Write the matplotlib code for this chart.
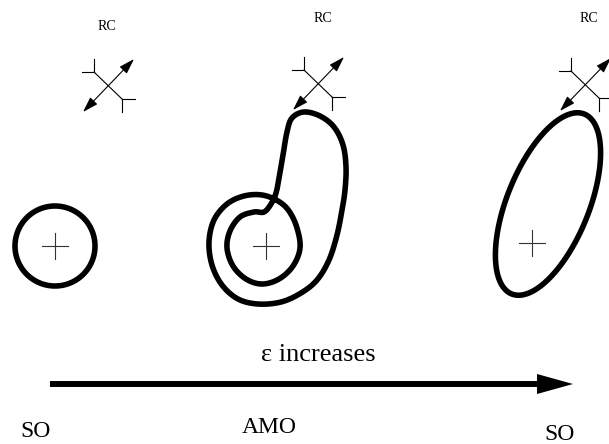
import numpy as np
import matplotlib
matplotlib.use("Agg")
import matplotlib.pyplot as plt
from matplotlib.patches import Polygon

# everything is in picture pixels, y pointing down
W, H = 609, 444

# left stable orbit (SO): a circle
so_left_center = (55, 246)
so_left_radius = 40

# middle (AMO): one closed curve that winds twice round the focus
amo_pts = [
    (264, 212), (254, 212), (240, 217), (230, 231), (227, 248), (233, 266),
    (246, 279), (262, 284), (279, 279), (293, 266), (300, 248), (297, 228),
    (289, 211), (278, 201), (262, 195), (244, 196), (227, 204), (214, 220),
    (209, 242), (212, 265), (222, 285), (238, 299), (258, 304), (281, 302),
    (301, 293), (317, 280), (329, 260), (337, 235), (342, 210), (345, 190),
    (346, 167), (343, 145), (334, 127), (320, 116), (304, 112), (292, 118),
    (287, 132), (283, 155), (279, 178), (276, 193), (271, 204),
]

# right stable orbit: tilted ellipse
so_right_center = (548, 204)
so_right_axes = (97, 41)     # semi-major, semi-minor
so_right_tilt = 22           # degrees from vertical

# focus crosses
cross_centers = [(55, 246), (266, 246), (532, 243)]

# RC symbols and labels
rc_centers = [(108, 86), (318, 84), (585, 85)]
rc_labels = [(107, 27), (323, 18), (589, 18)]

# bottom annotations
bottom_labels = ["SO", "AMO", "SO"]
bottom_pos = [(36, 431), (269, 427), (560, 434)]
eps_label = "\u03b5 increases"
eps_pos = (318, 355)
arrow_x = (50, 573)
arrow_y = 384


def closed_spline(pts, n=24):
    p = np.asarray(pts, float)
    p0, p1, p2, p3 = np.roll(p, 1, 0), p, np.roll(p, -1, 0), np.roll(p, -2, 0)
    t = np.linspace(0, 1, n, endpoint=False)[:, None, None]
    c = 0.5 * (2 * p1 + (-p0 + p2) * t + (2 * p0 - 5 * p1 + 4 * p2 - p3) * t ** 2
               + (-p0 + 3 * p1 - 3 * p2 + p3) * t ** 3)
    return c.transpose(1, 0, 2).reshape(-1, 2)


fig = plt.figure(figsize=(W / 100, H / 100), dpi=100)
ax = fig.add_axes([0, 0, 1, 1])
ax.set_xlim(0, W)
ax.set_ylim(H, 0)
ax.axis("off")

LW = 4.0
serif = "Liberation Serif"


def outline(xy):
    ax.add_patch(Polygon(xy, closed=True, fill=False, edgecolor="black",
                         lw=LW, joinstyle="round"))


t = np.linspace(0, 2 * np.pi, 300, endpoint=False)

# left circle
outline(np.column_stack([so_left_center[0] + so_left_radius * np.cos(t),
                         so_left_center[1] + so_left_radius * np.sin(t)]))

# AMO curve
outline(closed_spline(amo_pts))

# right ellipse
th = np.radians(so_right_tilt)
u = np.array([np.sin(th), -np.cos(th)])
v = np.array([np.cos(th), np.sin(th)])
a, b = so_right_axes
outline(np.array(so_right_center) + a * np.cos(t)[:, None] * u
        + b * np.sin(t)[:, None] * v)

# crosses
for cx, cy in cross_centers:
    ax.plot([cx - 13, cx + 13], [cy, cy], color="#333333", lw=0.8)
    ax.plot([cx, cx], [cy - 13, cy + 13], color="#333333", lw=0.8)

# RC symbols
for (cx, cy), (tx, ty) in zip(rc_centers, rc_labels):
    ax.annotate("", xy=(cx + 26, cy - 27), xytext=(cx - 25, cy + 26),
                arrowprops=dict(arrowstyle="<|-|>,head_length=0.95,head_width=0.3",
                                lw=0.8, color="black", shrinkA=0, shrinkB=0,
                                mutation_scale=10),
                annotation_clip=False)
    x1, y1 = cx - 14, cy - 14
    x2, y2 = cx + 14, cy + 13
    ax.plot([x1, x2], [y1, y2], color="black", lw=0.8)
    ax.plot([x1, x1], [y1, y1 - 13], color="black", lw=0.8)
    ax.plot([x1 - 12, x1], [y1, y1], color="black", lw=0.8)
    ax.plot([x2, x2], [y2, y2 + 13], color="black", lw=0.8)
    ax.plot([x2, x2 + 13], [y2, y2], color="black", lw=0.8)
    ax.text(tx, ty, "RC", family=serif, fontsize=10, ha="center", va="center")

# epsilon arrow: thick shaft + filled head
head_len, head_half = 36, 10
ax.plot([arrow_x[0], arrow_x[1] - head_len + 2], [arrow_y, arrow_y],
        color="black", lw=4.3, solid_capstyle="butt")
ax.fill([arrow_x[1] - head_len, arrow_x[1], arrow_x[1] - head_len],
        [arrow_y - head_half, arrow_y, arrow_y + head_half],
        color="black", lw=0)
ax.text(eps_pos[0], eps_pos[1], eps_label, family=serif, fontsize=19,
        ha="center", va="center")

for lab, (x, y) in zip(bottom_labels, bottom_pos):
    ax.text(x, y, lab, family=serif, fontsize=17, ha="center", va="center")

fig.savefig("out.png", dpi=100)
